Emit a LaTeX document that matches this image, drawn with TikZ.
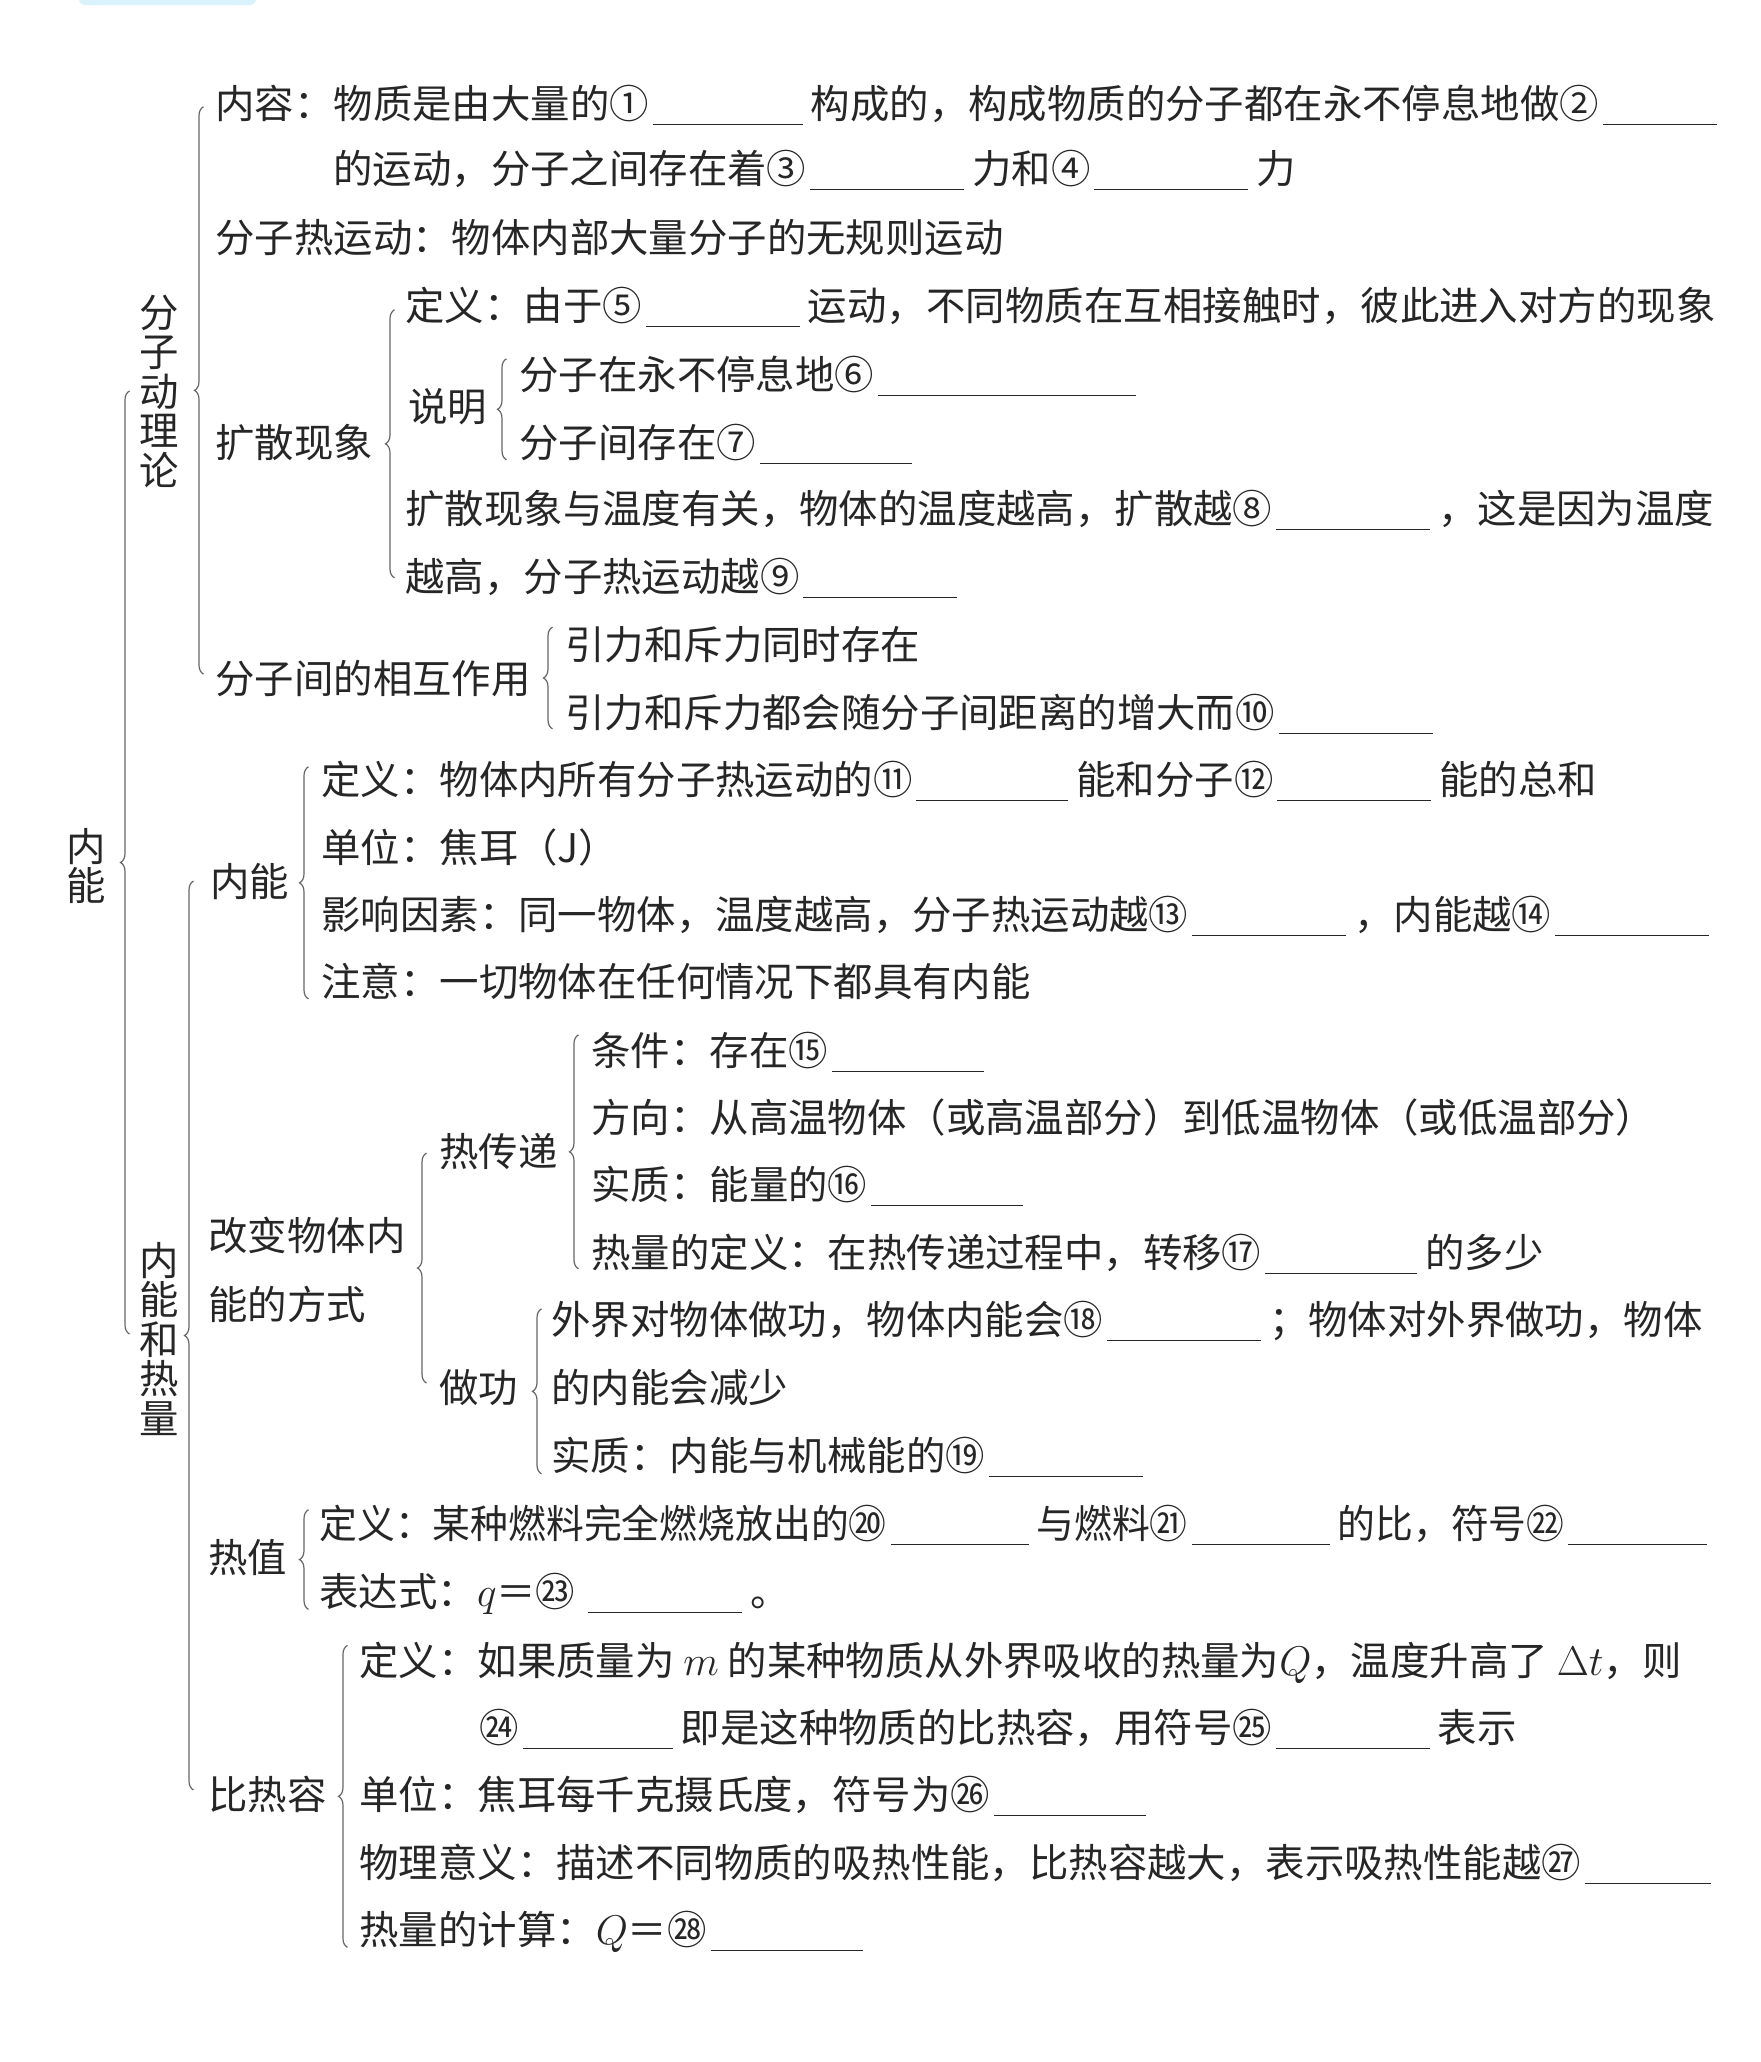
\documentclass[tikz,border=0pt]{standalone}
\usepackage{fontspec}
\setmainfont{Noto Sans CJK SC}
\usepackage{graphicx}
\usetikzlibrary{decorations.pathreplacing,calc}

% answer blank
\newcommand\blank[1]{\hspace{2pt}\rule[-3.5pt]{#1}{0.7pt}\hspace{4pt}}
% spread a run of characters over a given width
\newcommand\sprdend{}
\def\sprdgo#1#2{#1\ifx#2\sprdend\else\hfil\expandafter\sprdgo\expandafter#2\fi}
\newcommand\sprd[2]{\makebox[#1][s]{\sprdgo#2\sprdend}}

\begin{document}
\begin{tikzpicture}[x=0.5pt,y=-0.5pt,
  txt/.style={anchor=base west,yshift=-7.5pt,inner sep=0pt,
    font=\fontsize{19.7pt}{24pt}\selectfont,text=black!85},
  txtii/.style={anchor=west,inner sep=0pt,align=left,
    font=\fontsize{19.7pt}{34.5pt}\selectfont,text=black!85},
  vtxt/.style={align=center,inner sep=0pt,
    font=\fontsize{19.7pt}{19.75pt}\selectfont,text=black!85},
  brc/.style={decorate,decoration={brace,amplitude=4.5pt},
    draw=black!60,line width=0.6pt}]
\useasboundingbox (0,0) rectangle (1761,2062);
\fill[white] (0,0) rectangle (1761,2062);
\fill[cyan!15,rounded corners=3pt] (79,-6) rectangle (256,5);

% brace columns
\coordinate (bNN) at (129.5,0);
\coordinate (bFZ) at (203.5,0);
\coordinate (bNR) at (193.5,0);
\coordinate (bKS) at (394.5,0);
\coordinate (bSM) at (506.5,0);
\coordinate (bXH) at (552.5,0);
\coordinate (bNZ) at (308.5,0);
\coordinate (bRC) at (578.5,0);
\coordinate (bGB) at (426.5,0);
\coordinate (bZG) at (541.5,0);
\coordinate (bRZ) at (308.5,0);
\coordinate (bBR) at (347.5,0);

\node[vtxt] (nn) at (86,866) {内\\能};

\begin{scope} % 分子动理论
\node[vtxt] (fzdl) at (159,391) {分\\子\\动\\理\\论};
\node[txt] (nr1) at (215,103) {内容：物质是由大量的①\blank{75pt}构成的，构成物质的分子都在永不停息地做②\blank{57pt}};
\node[txt] (nr2) at (333,168) {的运动，分子之间存在着③\blank{77pt}力和④\blank{77pt}力};
\node[txt] (rydl) at (215,237) {分子热运动：物体内部大量分子的无规则运动};
\node[txt] (ksxx) at (215,442) {扩散现象};
\node[txt] (ks1) at (405,305) {定义：由于⑤\blank{77pt}\sprd{454pt}{运动，不同物质在互相接触时，彼此进入对方的现象}};
\node[txt] (sm) at (408,406) {说明};
\node[txt] (sm1) at (519,374) {分子在永不停息地⑥\blank{129pt}};
\node[txt] (sm2) at (519,442) {分子间存在⑦\blank{76pt}};
\node[txt] (ks3) at (405,508) {扩散现象与温度有关，物体的温度越高，扩散越⑧\blank{77pt}，这是因为温度};
\node[txt] (ks4) at (405,576) {越高，分子热运动越⑨\blank{77pt}};
\node[txt] (xhzy) at (215,678) {分子间的相互作用};
\node[txt] (xh1) at (565,644) {引力和斥力同时存在};
\node[txt] (xh2) at (565,712) {引力和斥力都会随分子间距离的增大而⑩\blank{77pt}};
\draw[brc] ($(bFZ |- xhzy)+(0,-4)$) -- ($(bFZ |- nr1)+(0,2)$);
\draw[brc] ($(bKS |- ks4)+(0,0)$) -- ($(bKS |- ks1)+(0,3)$);
\draw[brc] ($(bSM |- sm2)+(0,16)$) -- ($(bSM |- sm1)+(0,-17)$);
\draw[brc] ($(bXH |- xh2)+(0,15)$) -- ($(bXH |- xh1)+(0,-17)$);
\end{scope}

\begin{scope} % 内能和热量
\node[vtxt] (nnrl) at (159,1339) {内\\能\\和\\热\\量};
\node[txt] (nnz) at (210,881) {内能};
\node[txt] (nnz1) at (321,779) {定义：物体内所有分子热运动的⑪\blank{76pt}能和分子⑫\blank{77pt}能的总和};
\node[txt] (nnz2) at (321,847) {单位：焦耳（J）};
\node[txt] (nnz3) at (321,914) {影响因素：同一物体，温度越高，分子热运动越⑬\blank{77pt}，内能越⑭\blank{77pt}};
\node[txt] (nnz4) at (321,981) {注意：一切物体在任何情况下都具有内能};
\node[txtii] (gbfs) at (208,1270) {改变物体内\\能的方式};
\node[txt] (rcd) at (439,1151) {热传递};
\node[txt] (rcd1) at (591,1050) {条件：存在⑮\blank{76pt}};
\node[txt] (rcd2) at (591,1117) {方向：从高温物体（或高温部分）到低温物体（或低温部分）};
\node[txt] (rcd3) at (591,1184) {实质：能量的⑯\blank{76pt}};
\node[txt] (rcd4) at (591,1252) {热量的定义：在热传递过程中，转移⑰\blank{76pt}的多少};
\node[txt] (zg) at (439,1387) {做功};
\node[txt] (zg1) at (551,1319) {外界对物体做功，物体内能会⑱\blank{77pt}；物体对外界做功，物体};
\node[txt] (zg2) at (551,1387) {的内能会减少};
\node[txt] (zg3) at (551,1455) {实质：内能与机械能的⑲\blank{77pt}};
\node[txt] (rz) at (208,1557) {热值};
\node[txt] (rz1) at (319,1523) {\scalebox{0.96}[1]{定义：某种燃料完全燃烧放出的⑳\blank{72pt}与燃料㉑\blank{72pt}的比，符号㉒\blank{72pt}}};
\node[txt] (rz2) at (319,1591) {表达式：$q$＝㉓ \blank{77pt}。};
\node[txt] (brr) at (208,1794) {比热容};
\node[txt] (brr1) at (359,1660) {定义：如果质量为 $m$ 的某种物质从外界吸收的热量为$Q$，温度升高了 $\Delta t$，则};
\node[txt] (brr2) at (479,1727) {㉔\blank{75pt}即是这种物质的比热容，用符号㉕\blank{77pt}表示};
\node[txt] (brr3) at (359,1794) {单位：焦耳每千克摄氏度，符号为㉖\blank{76pt}};
\node[txt] (brr4) at (359,1862) {物理意义：描述不同物质的吸热性能，比热容越大，表示吸热性能越㉗\blank{63pt}};
\node[txt] (brr5) at (359,1929) {热量的计算：$Q$＝㉘\blank{76pt}};
\draw[brc] ($(bNR |- brr)+(0,-4)$) -- ($(bNR |- nnz)+(0,0)$);
\draw[brc] ($(bNZ |- nnz4)+(0,18)$) -- ($(bNZ |- nnz1)+(0,-14)$);
\draw[brc] ($(bGB |- zg)+(0,-4)$) -- ($(bGB |- rcd)+(0,2)$);
\draw[brc] ($(bRC |- rcd4)+(0,15)$) -- ($(bRC |- rcd1)+(0,-17)$);
\draw[brc] ($(bZG |- zg3)+(0,17)$) -- ($(bZG |- zg1)+(0,-12)$);
\draw[brc] ($(bRZ |- rz2)+(0,16)$) -- ($(bRZ |- rz1)+(0,-15)$);
\draw[brc] ($(bBR |- brr5)+(0,16)$) -- ($(bBR |- brr1)+(0,-17)$);
\end{scope}
%
\draw[brc] ($(bNN |- nnrl)+(0,-5)$) -- ($(bNN |- fzdl)+(0,0)$);
\end{tikzpicture}
\end{document}
